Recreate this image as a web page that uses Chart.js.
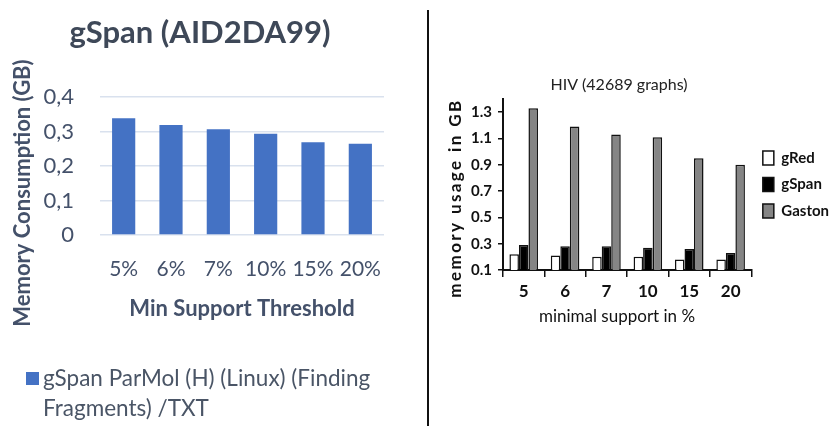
<!DOCTYPE html>
<html>
<head>
<meta charset="utf-8">
<script src="https://cdn.jsdelivr.net/npm/chart.js@4.4.1/dist/chart.umd.min.js"></script>
<style>
  html, body { margin: 0; padding: 0; background: #fff; overflow: hidden; }
  body { width: 831px; height: 426px; position: relative; font-family: Lato, sans-serif; }
  #leftBox { position: absolute; left: 0; top: 0; width: 400px; height: 426px; }
  #rightBox { position: absolute; left: 409px; top: 0; width: 440px; height: 426px; }
  #divider { position: absolute; left: 427px; top: 10px; width: 2px; height: 416px; background: #111; z-index: 2; }
  #legendA { position: absolute; left: 26px; top: 363px; width: 380px; font: 22.5px Lato, sans-serif; line-height: 30px; color: #4a5566; }
  #legendA .box { position: absolute; left: 0; top: 9px; width: 13px; height: 13px; }
  #legendA .txt { margin-left: 17px; }
</style>
</head>
<body>
<div id="leftBox"><canvas id="chartA" width="400" height="426"></canvas></div>
<div id="rightBox"><canvas id="chartB" width="440" height="426"></canvas></div>
<div id="divider"></div>
<div id="legendA"></div>
<script>
"use strict";

// left chart: gSpan (AID2DA99)
const thresholds = ["5%", "6%", "7%", "10%", "15%", "20%"];
const parmolMemory = [0.339, 0.319, 0.307, 0.294, 0.269, 0.265];
const memTicks = [0, 0.1, 0.2, 0.3, 0.4];
const parmolLabel = "gSpan ParMol (H) (Linux) (Finding Fragments) /TXT";

// right chart: HIV (42689 graphs)
const supports = ["5", "6", "7", "10", "15", "20"];
const gRedMem = [0.22, 0.21, 0.20, 0.20, 0.18, 0.18];
const gSpanMem = [0.29, 0.28, 0.28, 0.27, 0.26, 0.23];
const gastonMem = [1.33, 1.19, 1.13, 1.11, 0.95, 0.90];
const hivTicks = [0.1, 0.3, 0.5, 0.7, 0.9, 1.1, 1.3];

const blue = "#4472c4";
const slate = "#44516a";

// draws free standing texts (titles that are not centred on the plot)
const freeText = {
  id: "freeText",
  afterDraw(chart, args, opts) {
    const ctx = chart.ctx;
    (opts.items || []).forEach((t) => {
      ctx.save();
      ctx.translate(t.x, t.y);
      ctx.rotate(((t.rotate || 0) * Math.PI) / 180);
      ctx.font = t.font;
      ctx.fillStyle = t.color;
      ctx.letterSpacing = t.spacing || "0px";
      ctx.textAlign = "center";
      ctx.textBaseline = "middle";
      ctx.fillText(t.text, 0, 0);
      ctx.restore();
    });
  },
};

const makeLeft = () => {
  const ctx = document.getElementById("chartA").getContext("2d");
  return new Chart(ctx, {
    type: "bar",
    data: {
      labels: thresholds,
      datasets: [
        {
          label: parmolLabel,
          data: parmolMemory,
          backgroundColor: blue,
          borderWidth: 0,
          categoryPercentage: 1,
          barPercentage: 0.49,
        },
      ],
    },
    plugins: [freeText],
    options: {
      responsive: false,
      animation: false,
      layout: { padding: { left: 16, right: 16, top: 0, bottom: 104 } },
      plugins: {
        legend: { display: false },
        tooltip: { enabled: false },
        title: {
          display: true,
          text: "gSpan (AID2DA99)",
          color: "#3e4858",
          font: { family: "Lato", size: 31, weight: "bold" },
          padding: { top: 14, bottom: 46 },
        },
        freeText: {
          items: [
            { text: "Memory Consumption (GB)", x: 23, y: 193, rotate: -90,
              font: "bold 22px Lato", color: slate },
          ],
        },
      },
      scales: {
        x: {
          afterFit: (s) => { s.height = 87; },
          grid: { display: false },
          border: { display: false },
          ticks: { color: slate, padding: 14, font: { family: "Lato", size: 21 } },
          title: {
            display: true,
            text: "Min Support Threshold",
            color: slate,
            padding: 0,
            font: { family: "Lato", size: 22, weight: "bold" },
          },
        },
        y: {
          min: 0,
          max: 0.4,
          afterFit: (s) => { s.width = 84; },
          afterBuildTicks: (s) => { s.ticks = memTicks.map((v) => ({ value: v })); },
          grid: { color: "#d9e1ee", lineWidth: 1.5, drawTicks: false },
          border: { display: false },
          ticks: {
            color: slate,
            padding: 26,
            font: { family: "Lato", size: 22 },
            callback: (v) => (v === 0 ? "0" : v.toFixed(1).replace(".", ",")),
          },
        },
      },
    },
  });
};

const makeRight = () => {
  const ctx = document.getElementById("chartB").getContext("2d");
  const common = { borderColor: "#111", borderWidth: 1.5, categoryPercentage: 0.69, barPercentage: 1 };
  return new Chart(ctx, {
    type: "bar",
    data: {
      labels: supports,
      datasets: [
        { label: "gRed", data: gRedMem, backgroundColor: "#ffffff", ...common },
        { label: "gSpan", data: gSpanMem, backgroundColor: "#000000", ...common },
        { label: "Gaston", data: gastonMem, backgroundColor: "#858585", ...common },
      ],
    },
    plugins: [freeText],
    options: {
      responsive: false,
      animation: false,
      layout: { padding: { left: 0, right: 10, top: 99, bottom: 96 } },
      plugins: {
        tooltip: { enabled: false },
        legend: {
          position: "right",
          fullSize: false,
          labels: {
            color: "#111",
            boxWidth: 11,
            boxHeight: 14,
            padding: 11.5,
            font: { family: "Lato", size: 15, weight: "bold" },
          },
        },
        freeText: {
          items: [
            { text: "HIV (42689 graphs)", x: 210, y: 85, font: "16px Lato", color: "#222" },
            { text: "memory usage in GB", x: 47, y: 198, rotate: -90,
              font: "bold 17px Lato", color: "#111", spacing: "2.4px" },
            { text: "minimal support in %", x: 208, y: 317, font: "17px Lato", color: "#111" },
          ],
        },
      },
      scales: {
        x: {
          afterFit: (s) => { s.height = 60; },
          grid: { drawOnChartArea: false, color: "#111", lineWidth: 1.5, tickLength: 7 },
          border: { color: "#111", width: 2 },
          ticks: { color: "#111", padding: 4, font: { family: "Lato", size: 17, weight: "bold" } },
        },
        y: {
          min: 0.1,
          max: 1.4,
          afterFit: (s) => { s.width = 94; },
          afterBuildTicks: (s) => { s.ticks = hivTicks.map((v) => ({ value: v })); },
          grid: { drawOnChartArea: false, color: "#111", lineWidth: 1.5, tickLength: 5 },
          border: { color: "#111", width: 2 },
          ticks: {
            color: "#111",
            padding: 6,
            font: { family: "Lato", size: 15, weight: "bold" },
            callback: (v) => v.toFixed(1),
          },
        },
      },
    },
  });
};

const buildLegend = (chart) => {
  const holder = document.getElementById("legendA");
  chart.data.datasets.forEach((ds) => {
    const box = document.createElement("span");
    box.className = "box";
    box.style.background = ds.backgroundColor;
    const txt = document.createElement("div");
    txt.className = "txt";
    txt.textContent = ds.label;
    holder.appendChild(box);
    holder.appendChild(txt);
  });
};

const main = () => {
  const left = makeLeft();
  buildLegend(left);
  makeRight();
};

main();
</script>
</body>
</html>
